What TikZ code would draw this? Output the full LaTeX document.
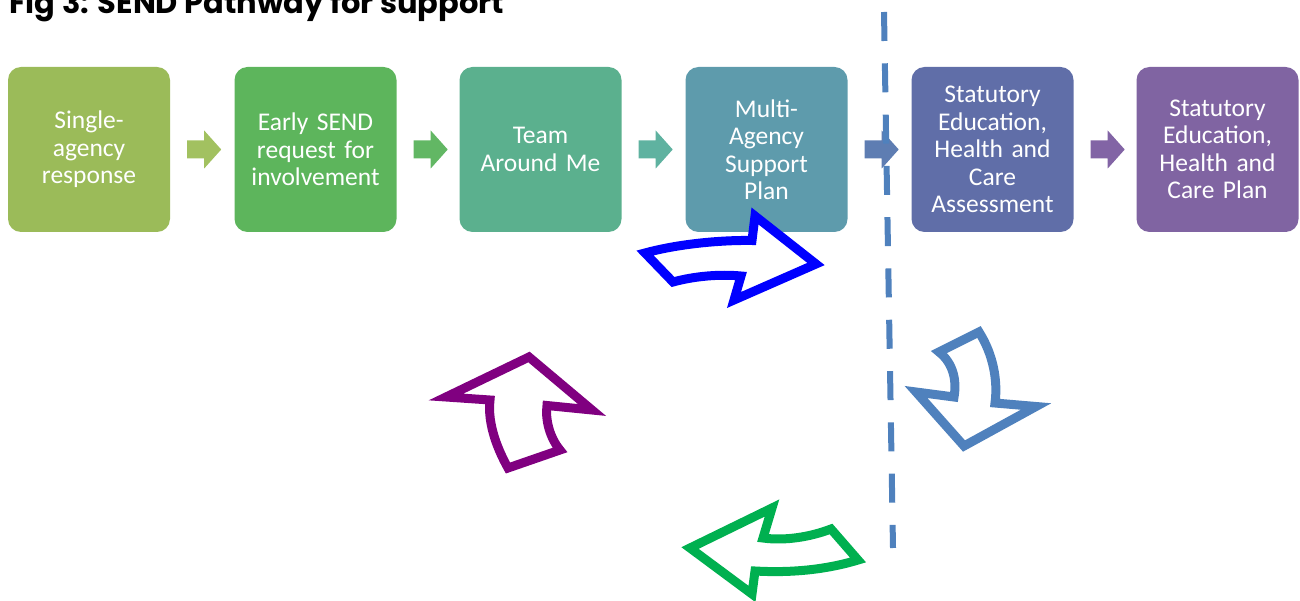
\documentclass[tikz,border=0pt]{standalone}
\usepackage{fontspec}
\setmainfont{Carlito}
\newfontfamily\titlefont{Poppins}
\usetikzlibrary{calc}
\definecolor{cA}{RGB}{155,187,89}
\definecolor{cB}{RGB}{93,181,92}
\definecolor{cC}{RGB}{91,176,142}
\definecolor{cD}{RGB}{94,155,172}
\definecolor{cE}{RGB}{96,110,168}
\definecolor{cF}{RGB}{128,100,162}
\definecolor{aA}{RGB}{162,193,96}
\definecolor{aB}{RGB}{98,183,100}
\definecolor{aC}{RGB}{95,178,160}
\definecolor{aD}{RGB}{94,125,178}
\definecolor{aE}{RGB}{130,100,165}
\definecolor{dashblue}{RGB}{79,129,189}
\definecolor{cycgreen}{RGB}{0,176,80}
\definecolor{cycpurple}{RGB}{128,0,128}
\begin{document}
\begin{tikzpicture}[x=1pt,y=-1pt,
  stepbox/.style={rounded corners=13pt, minimum width=162pt, minimum height=165pt,
    align=center, text=white, inner sep=0pt, text width=156pt,
    font=\fontsize{25.5}{27.5}\selectfont},
  chev/.pic={\path[pic actions] (0,-9) -- (17,-9) -- (17,-19) -- (34,0) -- (17,19) -- (17,9) -- (0,9) -- cycle;},
  dashline/.style={draw=dashblue, line width=6pt, dash pattern=on 29pt off 22.3pt},
  cycarrow/.style={line width=9pt, fill=white, line join=miter, miter limit=10}
]
\useasboundingbox (0,0) rectangle (1300,601);
\node[anchor=base west, inner sep=0pt, font=\titlefont\bfseries\fontsize{30.5}{30.5}\selectfont] (title) at (9,14) {Fig 3: SEND Pathway for support};

\node[stepbox, fill=cA] (b1) at (89,149.5) {Single-\\agency\\response};
\node[stepbox, fill=cB] (b2) at (315.5,149.5) {Early SEND\\request for\\involvement};
\node[stepbox, fill=cC] (b3) at (540.5,149.5) {Team\\Around Me};
\node[stepbox, fill=cD] (b4) at (766.5,149.5) {Multi-\\Agency\\Support\\Plan};
\node[stepbox, fill=cE] (b5) at (992.5,149.5) {Statutory\\Education,\\Health and\\Care\\Assessment};
\node[stepbox, fill=cF] (b6) at (1217.5,149.5) {Statutory\\Education,\\Health and\\Care Plan};

\pic[fill=aA] at ($(b1.east)+(17,0)$) {chev};
\pic[fill=aB] at ($(b2.east)+(17,0)$) {chev};
\pic[fill=aC] at ($(b3.east)+(17,0)$) {chev};
\pic[fill=aD] at ($(b4.east)+(17,0)$) {chev};
\pic[fill=aE] at ($(b5.east)+(17,0)$) {chev};

\coordinate (dtop) at (884,12);
\coordinate (dbot) at (893,548);
\draw[dashline] (dtop) -- (dbot);

% blue arrow (right)
\draw[cycarrow, draw=blue] (645,253) .. controls (678,244) and (720,240) .. (752,240.5)
  -- (755,216) -- (816,264) -- (734,300) -- (741,276)
  .. controls (720,274) and (695,276) .. (673,282) -- cycle;
% steel blue arrow (down)
\draw[cycarrow, draw=dashblue] (939,352) -- (979,332)
  .. controls (993,354) and (998,380) .. (995,403)
  -- (1036,406.5) -- (964,446) -- (916,392) -- (954,397)
  .. controls (957,380) and (953,363) .. (939,352) -- cycle;
% green arrow (left)
\draw[cycarrow, draw=cycgreen] (772,508) -- (763,538)
  .. controls (785,541) and (810,537) .. (831,529)
  -- (858,560) .. controls (825,570) and (790,573) .. (755,571)
  -- (752,594) -- (690,548) -- cycle;
% purple arrow (up)
\draw[cycarrow, draw=cycpurple] (446,397) -- (529,357) -- (592,410) -- (547,405.5)
  .. controls (545,420) and (550,438) .. (560,450)
  -- (508,468) .. controls (499,452) and (487,425) .. (490,400) -- cycle;
\end{tikzpicture}
\end{document}
